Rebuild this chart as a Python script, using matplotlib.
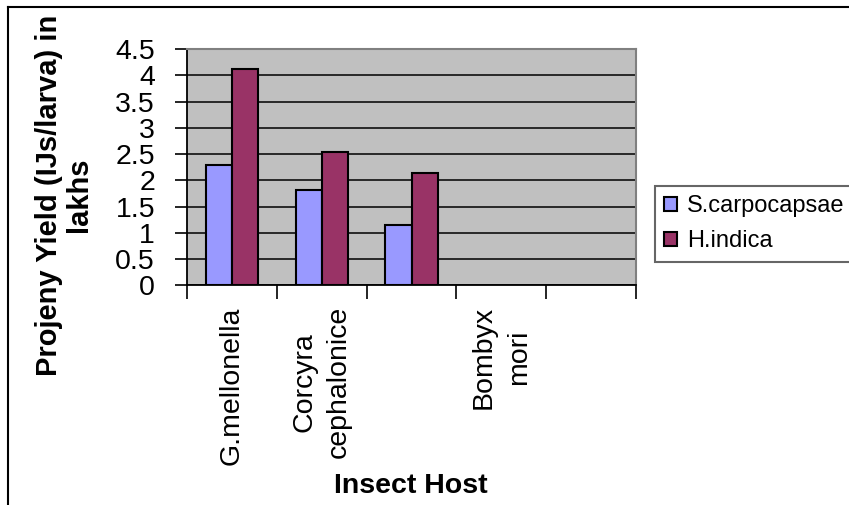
import numpy as np
import matplotlib
matplotlib.use("Agg")
import matplotlib.pyplot as plt
from matplotlib.lines import Line2D

categories = ["G.mellonella", "Corcyra\ncephalonice", "", "Bombyx\nmori", ""]
s_carpocapsae = [2.29, 1.82, 1.14, np.nan, np.nan]
h_indica = [4.11, 2.53, 2.14, np.nan, np.nan]
series_names = ["S.carpocapsae", "H.indica"]
y_ticks = [0, 0.5, 1, 1.5, 2, 2.5, 3, 3.5, 4, 4.5]
y_tick_labels = ["0", "0.5", "1", "1.5", "2", "2.5", "3", "3.5", "4", "4.5"]
x_title = "Insect Host"
y_title = "Projeny Yield (IJs/larva) in\nlakhs"

plt.rcParams['font.family'] = ['Liberation Sans', 'DejaVu Sans']

W, H = 849, 505
fig = plt.figure(figsize=(W / 100, H / 100), dpi=100)
ax = fig.add_axes([187 / W, 1 - 285.3 / H, (636 - 187) / W, (285.3 - 49) / H])
ax.set_facecolor("#C0C0C0")

x = np.arange(len(categories))
bw = 0.29
s = np.array(s_carpocapsae, dtype=float)
h = np.array(h_indica, dtype=float)
m1 = ~np.isnan(s)
m2 = ~np.isnan(h)
ax.bar(x[m1] - bw / 2, s[m1], width=bw, color="#9999FF", edgecolor="black",
       linewidth=1.5, label=series_names[0], zorder=3)
ax.bar(x[m2] + bw / 2, h[m2], width=bw, color="#993366", edgecolor="black",
       linewidth=1.5, label=series_names[1], zorder=3)

ax.set_xlim(-0.5, len(categories) - 0.5)
ax.set_ylim(0, 4.5)
ax.set_yticks(y_ticks)
ax.set_yticklabels(y_tick_labels, fontsize=20.5)
ax.yaxis.grid(True, color="black", linewidth=1.1, zorder=1)
ax.set_axisbelow(True)

ax.set_xticks(x)
ax.set_xticklabels(categories, rotation=90, fontsize=20.5, ha="center", va="top",
                   multialignment="center", linespacing=1.45)
ax.tick_params(axis="x", which="major", length=0, pad=15)
ax.set_xticks(np.arange(-0.5, len(categories), 1), minor=True)
ax.tick_params(axis="x", which="minor", length=10, width=1.2, color="black")
ax.tick_params(axis="y", length=9, width=1.2, pad=14, color="black")

for side in ["top", "right"]:
    ax.spines[side].set_color("#808080")
    ax.spines[side].set_linewidth(1.5)
for side in ["left", "bottom"]:
    ax.spines[side].set_color("black")
    ax.spines[side].set_linewidth(1.3)

fig.text(64 / W, 1 - 195 / H, y_title, rotation=90, ha="center", va="center",
         multialignment="center", fontsize=21, fontweight="bold", linespacing=1.05)
fig.text(411 / W, 1 - 493 / H, x_title, ha="center", va="baseline",
         fontsize=20.5, fontweight="bold")

leg = fig.legend(loc="upper left",
                 bbox_to_anchor=(655 / W, 1 - 186 / H - 80 / H, (880 - 655) / W, 80 / H),
                 mode="expand",
                 fontsize=17, frameon=True, fancybox=False, handlelength=0.55,
                 handleheight=0.55, handletextpad=0.4, borderpad=0.4,
                 labelspacing=0.55, borderaxespad=0)
leg.get_frame().set_edgecolor("#404040")
leg.get_frame().set_linewidth(1.5)

fig.add_artist(Line2D([8 / W, 8 / W], [0, 1 - 7 / H], transform=fig.transFigure,
                      color="black", linewidth=1.5))
fig.add_artist(Line2D([8 / W, 1], [1 - 7 / H, 1 - 7 / H], transform=fig.transFigure,
                      color="black", linewidth=1.5))

fig.savefig("out.png", dpi=100)
